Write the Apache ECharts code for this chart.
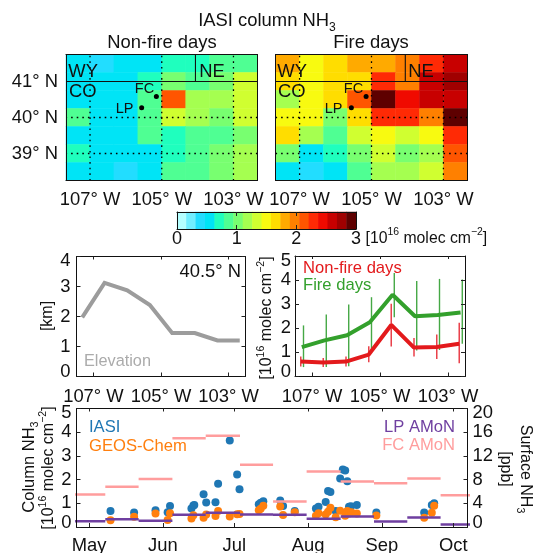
<!DOCTYPE html>
<html><head><meta charset="utf-8">
<style>html,body{margin:0;padding:0;background:#fff}#c{width:534px;height:553px}</style>
<script src="https://cdn.jsdelivr.net/npm/echarts@6/dist/echarts.min.js"></script>
</head><body><div id="c"></div>
<script>
const FONT='"Liberation Sans",Arial,sans-serif';
const colorScale=['#B4FFFF','#70EEFF','#22DDFF','#00E4F6','#1FFFBE','#4FFF93','#78FF70','#A5FF50','#D0FF30','#F8FA10','#FFDD00','#FFAA00','#FF8000','#FF5500','#FF2A05','#F00A00','#C80000','#A00000','#5E0000'];
const colorbarValues=[0.08,0.24,0.39,0.55,0.71,0.87,1.03,1.18,1.34,1.50,1.66,1.82,1.97,2.13,2.29,2.45,2.61,2.76,2.92];
const cellLons=['107.33','106.67','106.00','105.33','104.67','104.00','103.33','102.67'];
const cellLats=['41.5','41.0','40.5','40.0','39.5','39.0','38.5'];
const nonFireGrid=[
[0.55,0.39,0.55,0.55,0.71,0.71,0.87,0.87],
[0.55,0.55,0.55,0.71,1.03,0.79,0.95,1.34],
[0.55,0.55,0.55,0.79,2.13,1.18,1.18,1.34],
[0.87,0.55,0.55,0.87,1.36,1.18,1.03,1.34],
[0.55,0.55,0.55,0.79,0.71,0.87,0.87,1.03],
[0.71,0.55,0.55,0.55,0.71,0.87,1.03,1.18],
[0.55,0.55,0.39,0.55,0.87,0.87,1.03,1.18]];
const fireGrid=[
[1.82,1.50,1.66,1.82,1.82,1.97,2.29,2.61],
[1.66,1.50,1.66,1.66,2.29,1.97,2.61,2.76],
[1.18,1.50,1.66,2.13,2.92,2.45,2.61,2.61],
[1.50,1.50,1.03,1.66,2.29,2.29,1.97,2.92],
[1.66,1.18,0.87,1.34,1.50,1.34,1.50,2.29],
[1.03,0.55,0.71,1.03,1.34,1.03,1.18,2.13],
[0.55,0.39,0.55,0.87,1.18,1.18,1.34,1.97]];
const mapLonTicks=[107,105,103];
const mapLatTicks=[41,40,39];
const sites=[[105.15,40.58],[105.56,40.27]];
const stateLat=41, stateLon=104.06;
const profileLons=[107.33,106.67,106.0,105.33,104.67,104.0,103.33,102.67];
const elevation=[1.97,3.12,2.87,2.38,1.45,1.45,1.2,1.2];
const redLine=[0.62,0.58,0.62,0.91,2.14,1.2,1.22,1.36];
const redLow=[0.41,0.39,0.41,0.59,1.24,0.83,0.73,0.55];
const redHigh=[0.83,0.77,0.83,1.26,3.02,1.6,1.74,2.23];
const greenLons=[107.3,106.63,105.97,105.3,104.63,103.97,103.3,102.63];
const greenBarLons=[107.25,106.58,105.92,105.25,104.58,103.92,103.25,102.58];
const greenLine=[1.22,1.5,1.71,2.25,3.39,2.5,2.55,2.66];
const greenLow=[0.39,0.39,0.43,1.1,2.46,1.08,1.1,1.36];
const greenHigh=[2.12,2.57,2.99,3.29,4.29,3.96,4.05,4.03];
const monthTicks=[0,31,61,92,123,153];
const monthNames=['May','Jun','Jul','Aug','Sep','Oct'];
const iasiPoints=[[9,.67],[18.9,.61],[27.9,.71],[33,.62],[34,.89],[43,.78],[43.8,.91],[44.2,.93],[48.1,1.38],[49.2,1.03],[53.1,1.04],[54.2,1.82],[59.1,3.65],[62.2,2.21],[63.2,1.59],[71.3,.96],[72.1,1.02],[73.2,1.09],[80.3,1.12],[81.5,.89],[86.4,.67],[95.3,.78],[96.4,.85],[99.4,1.06],[100.4,1.52],[101.4,1.48],[103.6,.67],[105.5,2.05],[106.6,2.43],[107.6,2.38],[108.5,1.93],[109.2,.85],[110,.88],[112.5,.93],[120.7,.61],[140.8,.61],[144,.93],[145,1.0]];
const geosPoints=[[9,.29],[18.9,.43],[27.9,.57],[33,.3],[34,.58],[43,.36],[43.8,.5],[48.1,.39],[49.2,.53],[53.1,.46],[54.2,.68],[59.1,.44],[62.2,.54],[63.2,.55],[71.3,.71],[72.1,.77],[73.2,.9],[80.3,.86],[81.5,.51],[86.4,.62],[95.3,.47],[96.4,.58],[99.4,.53],[100.4,.64],[101.4,.81],[103.6,.41],[105.5,.69],[107.6,.47],[108.5,.67],[109.2,.57],[110.2,.62],[112.5,.57],[120.7,.48],[140.8,.39],[144,.6],[145,.9]];
const amonEdges=[-7.2,6.8,20.8,35,49,63.4,77.3,91.4,105.7,119.7,133.7,147.7,161.8];
const fcAmon=[5.5,6.8,8.1,15.0,15.4,10.5,4.3,9.35,7.7,7.4,8.2,5.35];
const lpAmon=[0.98,1.3,1.05,2.05,2.4,2.1,2.05,1.4,1.77,0.93,1.6,0.42];

const TICK=18.4;
const grids=[],xAxes=[],yAxes=[],series=[];
const addGrid=r=>{grids.push(Object.assign({outerBoundsMode:'none'},r));return grids.length-1;};
const baseLabel={fontFamily:FONT,fontSize:TICK,color:'#111'};
const line={show:true,onZero:false,lineStyle:{color:'#111',width:1}};
function valueAxis(g,extra){return Object.assign({type:'value',gridIndex:g,z:6,axisLine:line,splitLine:{show:false},axisTick:{show:false},axisLabel:{show:false}},extra);}
function hiddenCat(g,data,inv){return {type:'category',gridIndex:g,data,show:false,inverse:!!inv};}
function ticks(vals,len){return {show:true,inside:true,length:len||4,customValues:vals,lineStyle:{color:'#222',width:1}};}
function labels(vals,fmt,margin,extra){return Object.assign({show:true,customValues:vals,formatter:fmt,margin},baseLabel,extra||{});}
const nudged={verticalAlignMaxLabel:'top',verticalAlignMinLabel:'bottom',lineHeight:9,showMaxLabel:true,showMinLabel:true,hideOverlap:false};
function seg(edges,vals){const out=[];vals.forEach((v,i)=>{out.push([edges[i],v],[edges[i+1],v],[edges[i+1],null]);});return out;}
function errBars(name,xs,lo,hi,color,xi,yi){
  series.push({type:'custom',name,xAxisIndex:xi,yAxisIndex:yi,data:xs.map((x,i)=>[x,lo[i],hi[i]]),z:3,
    renderItem:(p,api)=>{const a=api.coord([api.value(0),api.value(1)]),b=api.coord([api.value(0),api.value(2)]);
      return {type:'line',shape:{x1:a[0],y1:a[1],x2:b[0],y2:b[1]},style:{stroke:color,lineWidth:1.4}};},
    encode:{x:0,y:[1,2]}});
}
function heatData(m){const o=[];m.forEach((r,j)=>r.forEach((v,i)=>o.push([i,j,v])));return o;}
function mapPanel(rect,gridVals,showLat,name){
  const g0=addGrid(rect),g1=addGrid(rect);
  xAxes.push(hiddenCat(g0,cellLons));yAxes.push(hiddenCat(g0,cellLats,true));
  const xh=xAxes.length-1,yh=yAxes.length-1;
  series.push({type:'heatmap',name,xAxisIndex:xh,yAxisIndex:yh,data:heatData(gridVals),progressive:0,z:2});
  const minLon=102.33,maxLon=107.67,minLat=38.25,maxLat=41.75;
  xAxes.push(valueAxis(g1,{min:minLon,max:maxLon,inverse:true,axisLabel:labels(mapLonTicks,v=>v+'° W',10)}));
  yAxes.push(valueAxis(g1,{min:minLat,max:maxLat,axisLabel:showLat?labels(mapLatTicks,v=>v+'° N',8):{show:false}}));
  const xv=xAxes.length-1,yv=yAxes.length-1;
  xAxes.push(valueAxis(g1,{min:minLon,max:maxLon,inverse:true,position:'top'}));
  yAxes.push(valueAxis(g1,{min:minLat,max:maxLat,position:'right'}));
  const dotted={color:'#000',width:1.3,type:[1.6,4]};
  const L=(data,ls)=>series.push({type:'line',xAxisIndex:xv,yAxisIndex:yv,data,symbol:'none',lineStyle:ls,z:4,silent:true});
  mapLonTicks.forEach(l=>L([[l,minLat],[l,maxLat]],dotted));
  mapLatTicks.filter(l=>l!==stateLat).forEach(l=>L([[minLon,l],[maxLon,l]],dotted));
  const solid={color:'#111',width:1.1};
  L([[minLon,stateLat],[maxLon,stateLat]],solid);
  L([[stateLon,stateLat],[stateLon,maxLat]],solid);
  series.push({type:'scatter',xAxisIndex:xv,yAxisIndex:yv,data:sites,symbolSize:5,itemStyle:{color:'#000',opacity:1},z:5});
}
const MAP_TOP=54.5,MAP_H=126;
mapPanel({left:66,top:MAP_TOP,width:191.5,height:MAP_H},nonFireGrid,true,'Non-fire days');
mapPanel({left:275.5,top:MAP_TOP,width:192,height:MAP_H},fireGrid,false,'Fire days');

// colour bar
{
  const r={left:177,top:212,width:179,height:17};
  const g0=addGrid(r),g1=addGrid(r);
  xAxes.push(hiddenCat(g0,colorbarValues.map(String)));yAxes.push(hiddenCat(g0,['c']));
  series.push({type:'heatmap',xAxisIndex:xAxes.length-1,yAxisIndex:yAxes.length-1,data:colorbarValues.map((v,i)=>[i,0,v]),progressive:0,z:2});
  xAxes.push(valueAxis(g1,{min:0,max:3,axisTick:ticks([1,2],4),axisLabel:labels([0,1,2,3],v=>String(v),1,{fontSize:18})}));
  yAxes.push(valueAxis(g1,{min:0,max:1}));
  xAxes.push(valueAxis(g1,{min:0,max:3,position:'top',axisTick:ticks([1,2],4)}));
  yAxes.push(valueAxis(g1,{min:0,max:1,position:'right'}));
}
function linePanel(rect,ymax,yvals,yMargin){
  const g=addGrid(rect);
  const lab=labels(yvals,v=>String(v),yMargin,nudged);
  xAxes.push(valueAxis(g,{min:102.5,max:107.5,inverse:true,axisTick:ticks(mapLonTicks),axisLabel:labels(mapLonTicks,v=>v+'° W',11)}));
  yAxes.push(valueAxis(g,{min:0,max:ymax,axisTick:ticks(yvals),axisLabel:lab}));
  const xi=xAxes.length-1,yi=yAxes.length-1;
  xAxes.push(valueAxis(g,{min:102.5,max:107.5,inverse:true,position:'top',axisTick:ticks(mapLonTicks,3)}));
  yAxes.push(valueAxis(g,{min:0,max:ymax,position:'right',axisTick:ticks(yvals)}));
  return [xi,yi];
}
const zip=(a,b)=>a.map((x,i)=>[x,b[i]]);
{
  const [xi,yi]=linePanel({left:76.5,top:256.5,width:169,height:120},4,[0,1,2,3,4],6);
  series.push({type:'line',name:'Elevation',xAxisIndex:xi,yAxisIndex:yi,data:zip(profileLons,elevation),symbol:'none',lineStyle:{color:'#9C9C9C',width:4,join:'miter'},z:3});
}
{
  const [xi,yi]=linePanel({left:295,top:256,width:170,height:120.5},5,[0,1,2,3,4,5],4);
  errBars('Fire range',greenBarLons,greenLow,greenHigh,'#45A845',xi,yi);
  errBars('Non-fire range',profileLons,redLow,redHigh,'#E8323C',xi,yi);
  series.push({type:'line',name:'Fire days',xAxisIndex:xi,yAxisIndex:yi,data:zip(greenLons,greenLine),symbol:'none',lineStyle:{color:'#33A02C',width:4},z:4});
  series.push({type:'line',name:'Non-fire days',xAxisIndex:xi,yAxisIndex:yi,data:zip(profileLons,redLine),symbol:'none',lineStyle:{color:'#E31A1C',width:4},z:4});
}
{
  const g=addGrid({left:76.5,top:408.5,width:391,height:118.5});
  const lab=(vals,m)=>labels(vals,v=>String(v),m,nudged);
  xAxes.push(valueAxis(g,{min:-5.3,max:159,axisTick:ticks(monthTicks),axisLabel:labels(monthTicks,v=>monthNames[monthTicks.indexOf(v)],10)}));
  yAxes.push(valueAxis(g,{min:0,max:5,axisTick:ticks([0,1,2,3,4,5]),axisLabel:lab([0,1,2,3,4,5],5)}));
  const xi=xAxes.length-1,yl=yAxes.length-1;
  yAxes.push(valueAxis(g,{min:0,max:20,position:'right',axisTick:ticks([0,4,8,12,16,20]),axisLabel:Object.assign(lab([0,4,8,12,16,20],5),{align:'left'})}));
  const yr=yAxes.length-1;
  xAxes.push(valueAxis(g,{min:-5.3,max:159,position:'top',axisTick:ticks(monthTicks,3)}));
  series.push({type:'scatter',name:'IASI',xAxisIndex:xi,yAxisIndex:yl,data:iasiPoints,symbolSize:8,itemStyle:{color:'#1F77B4',opacity:1},z:3});
  series.push({type:'scatter',name:'GEOS-Chem',xAxisIndex:xi,yAxisIndex:yl,data:geosPoints,symbolSize:8,itemStyle:{color:'#FF7F0E',opacity:1},z:3});
  series.push({type:'line',name:'FC AMoN',xAxisIndex:xi,yAxisIndex:yr,data:seg(amonEdges,fcAmon),symbol:'none',lineStyle:{color:'#FF9D9D',width:2.5},z:4});
  series.push({type:'line',name:'LP AMoN',xAxisIndex:xi,yAxisIndex:yr,data:seg(amonEdges,lpAmon),symbol:'none',lineStyle:{color:'#6F3FA0',width:2.5},z:4});
}
// text
const rich=(fs,col)=>({n:{fontFamily:FONT,fontSize:fs,fill:col,color:col,lineHeight:fs+6,verticalAlign:'middle'},
  u:{fontFamily:FONT,fontSize:fs*0.66,fill:col,color:col,lineHeight:fs+6,verticalAlign:'top',padding:[0,0,0,0]},
  d:{fontFamily:FONT,fontSize:fs*0.66,fill:col,color:col,lineHeight:fs+6,verticalAlign:'bottom'}});
function T(text,x,y,o){o=o||{};const fs=o.fs||18.4,col=o.col||'#111';
  return {type:'text',x,y,rotation:o.rot||0,z:30,style:{text,fontFamily:FONT,fontSize:fs,fill:col,align:o.a||'left',verticalAlign:'middle',textAlign:o.a||'left',textVerticalAlign:'middle',rich:rich(fs,col)}};}
const g=[];
const col16='{n|[10}{u|16}{n| molec cm}{u|−2}{n|]}';
[0,209].forEach(d=>{
  g.push(T('WY',68.3+d,72,{}),T('CO',69+d,92,{}),T('NE',199.3+d,72,{}),T('FC',144.5+d,89,{fs:14.5,a:'center'}),T('LP',124.5+d,109,{fs:14.5,a:'center'}));
});
g.push(T('{n|IASI column NH}{d|3}',267,21,{a:'center'}));
g.push(T('Non-fire days',162,43,{a:'center'}),T('Fire days',371,43,{a:'center'}));
g.push(T(col16,365.5,238.5,{fs:15.8}));
g.push(T('{n|[km]}',47.5,316,{a:'center',rot:Math.PI/2,fs:16}));
g.push(T(col16,267,318,{a:'center',rot:Math.PI/2,fs:16}));
g.push(T('40.5° N',241,272,{a:'right'}),T('Elevation',84,362,{fs:16.3,col:'#ABABAB'}));
g.push(T('Non-fire days',303,268,{fs:16.6,col:'#E31A1C'}),T('Fire days',303,285,{fs:16.6,col:'#33A02C'}));
g.push(T('IASI',89,427,{fs:16.6,col:'#1F77B4'}),T('GEOS-Chem',89,446,{fs:16.6,col:'#FF7F0E'}));
g.push(T('LP AMoN',455,427,{fs:16.6,a:'right',col:'#6F3FA0'}),T('FC AMoN',455,445.5,{fs:16.6,a:'right',col:'#FF9D9D'}));
g.push(T('{n|Column NH}{d|3}',29,467,{a:'center',rot:Math.PI/2,fs:16.5}));
g.push(T(col16,49,468,{a:'center',rot:Math.PI/2,fs:16}));
g.push(T('{n|Surface NH}{d|3}',525.5,469,{a:'center',rot:-Math.PI/2,fs:16}));
g.push(T('{n|[ppb]}',505.5,469,{a:'center',rot:-Math.PI/2,fs:16}));

const pieces=colorScale.map((c,i)=>({gte:i*3/19,lt:(i+1)*3/19,color:c}));
const heatIdx=series.map((s,i)=>s.type==='heatmap'?i:-1).filter(i=>i>=0);
const chart=echarts.init(document.getElementById('c'),null,{renderer:'canvas'});
chart.setOption({animation:false,backgroundColor:'#fff',
  grid:grids,xAxis:xAxes,yAxis:yAxes,series,graphic:{elements:g},
  visualMap:{type:'piecewise',show:false,seriesIndex:heatIdx,dimension:2,pieces}});
</script></body></html>
